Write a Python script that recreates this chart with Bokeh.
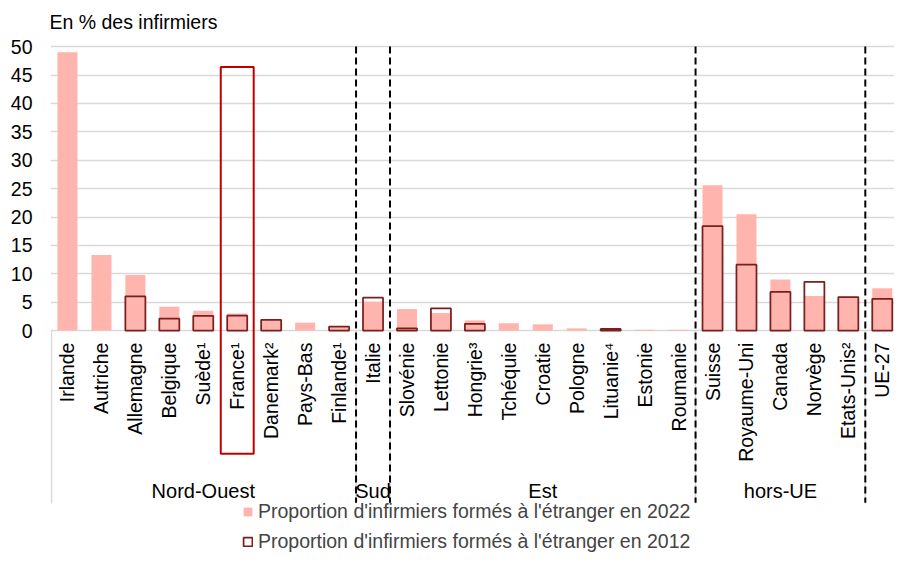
import numpy as np
from bokeh.plotting import figure
from bokeh.models import ColumnDataSource, Range1d, FixedTicker, Legend, LegendItem
from bokeh.core.properties import value
from bokeh.embed import file_html
from bokeh.resources import INLINE

# ---------------- data ----------------
countries = ["Irlande", "Autriche", "Allemagne", "Belgique", "Suède¹", "France¹",
             "Danemark²", "Pays-Bas", "Finlande¹", "Italie", "Slovénie", "Lettonie",
             "Hongrie³", "Tchéquie", "Croatie", "Pologne", "Lituanie⁴", "Estonie",
             "Roumanie", "Suisse", "Royaume-Uni", "Canada", "Norvège", "Etats-Unis²",
             "UE-27"]
groups = ["Nord-Ouest", "Sud", "Est", "hors-UE", ""]
group_sizes = [9, 1, 9, 5, 1]
share_2022 = [49.0, 13.3, 9.8, 4.2, 3.5, 3.0, 1.8, 1.4, 0.6, 5.1, 3.8, 3.1, 1.8,
              1.3, 1.1, 0.4, 0.3, 0.15, 0.15, 25.6, 20.5, 9.0, 6.1, 5.8, 7.45]
share_2012 = [None, None, 6.05, 2.1, 2.6, 2.65, 1.9, None, 0.72, 5.8, 0.4, 3.9, 1.2,
              None, None, None, 0.3, None, None, 18.4, 11.6, 6.8, 8.6, 5.9, 5.6]
y_ticks = [0, 5, 10, 15, 20, 25, 30, 35, 40, 45, 50]
highlight = "France¹"
highlight_top = 46.4
title_text = "En % des infirmiers"
label_2022 = "Proportion d'infirmiers formés à l'étranger en 2022"
label_2012 = "Proportion d'infirmiers formés à l'étranger en 2012"

# ---------------- styles ----------------
FONT = "Liberation Sans"
FS = "19.5px"
PINK = "#FFB5AD"
DARK = "#7B1E1E"
RED = "#C00000"
GRID = "#D9D9D9"

xs = [i + 0.5 for i in range(len(countries))]
src22 = ColumnDataSource(dict(x=xs, top=share_2022))
idx12 = [i for i, v in enumerate(share_2012) if v is not None]
src12 = ColumnDataSource(dict(x=[xs[i] for i in idx12], top=[share_2012[i] for i in idx12]))

W, H, LEFT = 894, 553, 50
p = figure(width=W, height=H, output_backend="svg", toolbar_location=None,
           x_range=Range1d(0, 24.86), y_range=Range1d(-39.24, 58.12),
           x_axis_location=None, min_border=0, min_border_left=LEFT,
           outline_line_color=None, tools="")
p.xgrid.visible = False
p.ygrid.ticker = FixedTicker(ticks=y_ticks)
p.ygrid.grid_line_color = GRID
p.ygrid.grid_line_width = 1.5
p.yaxis.ticker = FixedTicker(ticks=y_ticks)
p.yaxis.axis_line_color = None
p.yaxis.major_tick_line_color = None
p.yaxis.minor_tick_line_color = None
p.yaxis.major_tick_out = 0
p.yaxis.major_label_standoff = 18
p.yaxis.major_label_text_font = FONT
p.yaxis.major_label_text_font_size = FS
p.yaxis.major_label_text_color = "#000000"

# category axis frame lines (gray)
bounds = list(np.cumsum(group_sizes)[:-1])
p.segment(x0=[0.03] + bounds, y0=0, x1=[0.03] + bounds, y1=-30.44,
          line_color=GRID, line_width=1.5)

# bars
r22 = p.vbar(x="x", top="top", bottom=0, width=0.59, source=src22,
             fill_color=PINK, line_color=None)
r12 = p.vbar(x="x", top="top", bottom=0, width=0.59, source=src12,
             fill_color=None, line_color=DARK, line_width=1.75)

# dashed group separators
p.segment(x0=bounds, y0=50.0, x1=bounds, y1=-30.3, line_color="black",
          line_width=2, line_dash="7 4")

# highlight box around France
hi = countries.index(highlight)
p.rect(x=[xs[hi]], y=[(highlight_top + (-21.69)) / 2], width=0.97,
       height=highlight_top + 21.69, fill_color=None, line_color=RED, line_width=2)

# category labels
p.text(x=xs, y=-2.1, text=countries, angle=np.pi / 2, text_align="right",
       text_baseline="middle", text_font=value(FONT), text_font_size=FS,
       text_color="#000000")

# group labels
starts = np.concatenate([[0], np.cumsum(group_sizes)[:-1]])
gcent = [s + n / 2 for s, n in zip(starts, group_sizes)]
p.text(x=gcent, y=-28.3, text=groups, text_align="center",
       text_baseline="alphabetic", text_font=value(FONT), text_font_size="20px",
       text_color="#000000")

# title
p.text(x=[-0.03], y=[54.3], text=[title_text], text_align="left",
       text_baseline="alphabetic", text_font=value(FONT), text_font_size=FS,
       text_color="#000000")

legend = Legend(items=[LegendItem(label=label_2022, renderers=[r22]),
                       LegendItem(label=label_2012, renderers=[r12])],
                location=(192, 0), orientation="vertical",
                background_fill_alpha=0, border_line_color=None, padding=0,
                margin=0, spacing=7, glyph_width=11, glyph_height=11,
                label_standoff=5, label_text_font=FONT, label_text_font_size=FS,
                label_height=22)
p.add_layout(legend)

open("out.html", "w").write(file_html(p, INLINE))
